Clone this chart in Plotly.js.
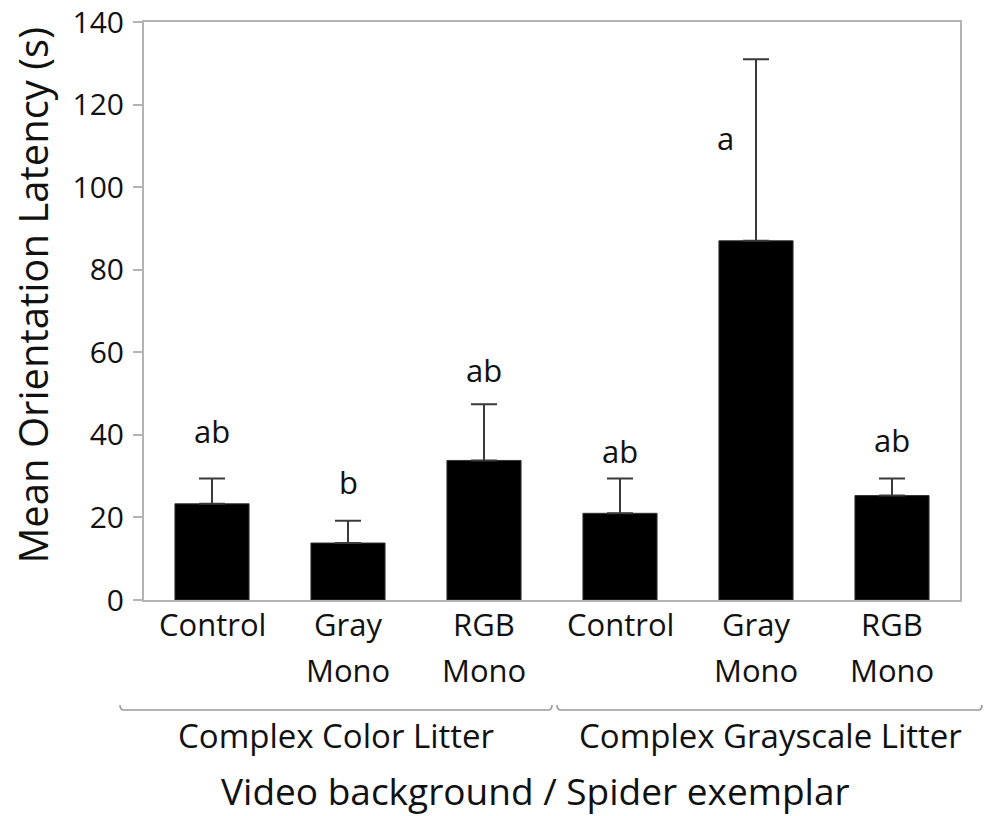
<!DOCTYPE html>
<html>
<head>
<meta charset="utf-8">
<script src="https://cdn.plot.ly/plotly-3.0.1.min.js"></script>
<style>html,body{margin:0;padding:0;background:#fff;}#chart{width:986px;height:816px;}</style>
</head>
<body>
<div id="chart"></div>
<script>
// Data
var categories = ["Control", "Gray Mono", "RGB Mono", "Control ", "Gray Mono ", "RGB Mono "];
var labelLine1 = ["Control", "Gray", "RGB", "Control", "Gray", "RGB"];
var labelLine2 = ["", "Mono", "Mono", "", "Mono", "Mono"];
var meanLatency = [23.3, 13.8, 33.8, 21.0, 87.0, 25.3];
var errorPlus = [6.1, 5.4, 13.6, 8.4, 44.0, 4.1];
var letters = ["ab", "b", "ab", "ab", "a", "ab"];
var letterY = [41.0, 28.6, 55.6, 36.2, 111.8, 38.7];
var letterShift = [0, 0, 0, 0, -31, 0];
var groups = ["Complex Color Litter", "Complex Grayscale Litter"];
var yTicks = [0, 20, 40, 60, 80, 100, 120, 140];

var FONT = "Open Sans, Noto Sans, sans-serif";
var TXT = "#111";
var xIdx = categories.map(function (_, i) { return i; });

var trace = {
  type: "bar",
  x: xIdx,
  y: meanLatency,
  width: 0.545,
  marker: { color: "#000", line: { color: "#333", width: 1 } },
  error_y: {
    type: "data", symmetric: false, array: errorPlus,
    arrayminus: errorPlus.map(function () { return 0; }),
    color: "#3a3a3a", thickness: 2, width: 13
  },
  hoverinfo: "skip"
};

var ann = [];
for (var i = 0; i < categories.length; i++) {
  ann.push({ x: xIdx[i], y: letterY[i], xref: "x", yref: "y", text: letters[i], showarrow: false,
    xshift: letterShift[i], xanchor: "center", yanchor: "middle", font: { family: FONT, size: 31, color: TXT } });
  ann.push({ x: xIdx[i], y: 0, xref: "x", yref: "paper", text: labelLine1[i], showarrow: false,
    yshift: -24, xanchor: "center", yanchor: "middle", font: { family: FONT, size: 31, color: TXT } });
  if (labelLine2[i]) {
    ann.push({ x: xIdx[i], y: 0, xref: "x", yref: "paper", text: labelLine2[i], showarrow: false,
      yshift: -70, xanchor: "center", yanchor: "middle", font: { family: FONT, size: 31, color: TXT } });
  }
}
ann.push({ x: 1, y: -0.235, xref: "x", yref: "paper", text: groups[0], showarrow: false,
  xshift: -12, xanchor: "center", yanchor: "middle", font: { family: FONT, size: 33, color: TXT } });
ann.push({ x: 4, y: -0.235, xref: "x", yref: "paper", text: groups[1], showarrow: false,
  xshift: 14, xanchor: "center", yanchor: "middle", font: { family: FONT, size: 33, color: TXT } });
ann.push({ x: 0.48, y: -0.329, xref: "paper", yref: "paper", text: "Video background / Spider exemplar", showarrow: false,
  xanchor: "center", yanchor: "middle", font: { family: FONT, size: 37, color: TXT } });
ann.push({ x: -0.137, y: 0.527, xref: "paper", yref: "paper", text: "Mean Orientation Latency (s)", showarrow: false,
  textangle: -90, xanchor: "center", yanchor: "middle", font: { family: FONT, size: 40, color: TXT } });

// bracket paths in paper coords
function px(xp) { return (xp - 144) / 816; }
function py(yp) { return (600 - yp) / 578; }
function bracket(x0, x1) {
  return "M" + px(x0) + "," + py(705) + " Q" + px(x0) + "," + py(710) + " " + px(x0 + 4) + "," + py(710) +
    " L" + px(x1 - 4) + "," + py(710) + " Q" + px(x1) + "," + py(710) + " " + px(x1) + "," + py(705);
}
var shapes = [
  { type: "path", xref: "paper", yref: "paper", path: bracket(120, 552), line: { color: "#9a9a9a", width: 1.6 } },
  { type: "path", xref: "paper", yref: "paper", path: bracket(557, 982), line: { color: "#9a9a9a", width: 1.6 } }
];

var layout = {
  width: 986, height: 816,
  margin: { l: 144, r: 26, t: 22, b: 216, pad: 0 },
  paper_bgcolor: "#fff", plot_bgcolor: "#fff",
  showlegend: false,
  bargap: 0,
  xaxis: {
    type: "linear", range: [-0.5, 5.5], showticklabels: false, ticks: "",
    showgrid: false, zeroline: false, showline: true, mirror: true,
    linecolor: "#b3b3b3", linewidth: 2, fixedrange: true
  },
  yaxis: {
    range: [0, 140], tickvals: yTicks, ticktext: yTicks.map(String),
    ticks: "outside", ticklen: 9, tickwidth: 2, tickcolor: "#b3b3b3",
    showgrid: false, zeroline: false, showline: true, mirror: true,
    linecolor: "#b3b3b3", linewidth: 2, fixedrange: true,
    tickfont: { family: FONT, size: 30, color: TXT },
    ticklabelstandoff: 3
  },
  annotations: ann,
  shapes: shapes
};

Plotly.newPlot("chart", [trace], layout, { staticPlot: true, displayModeBar: false });
</script>
</body>
</html>
